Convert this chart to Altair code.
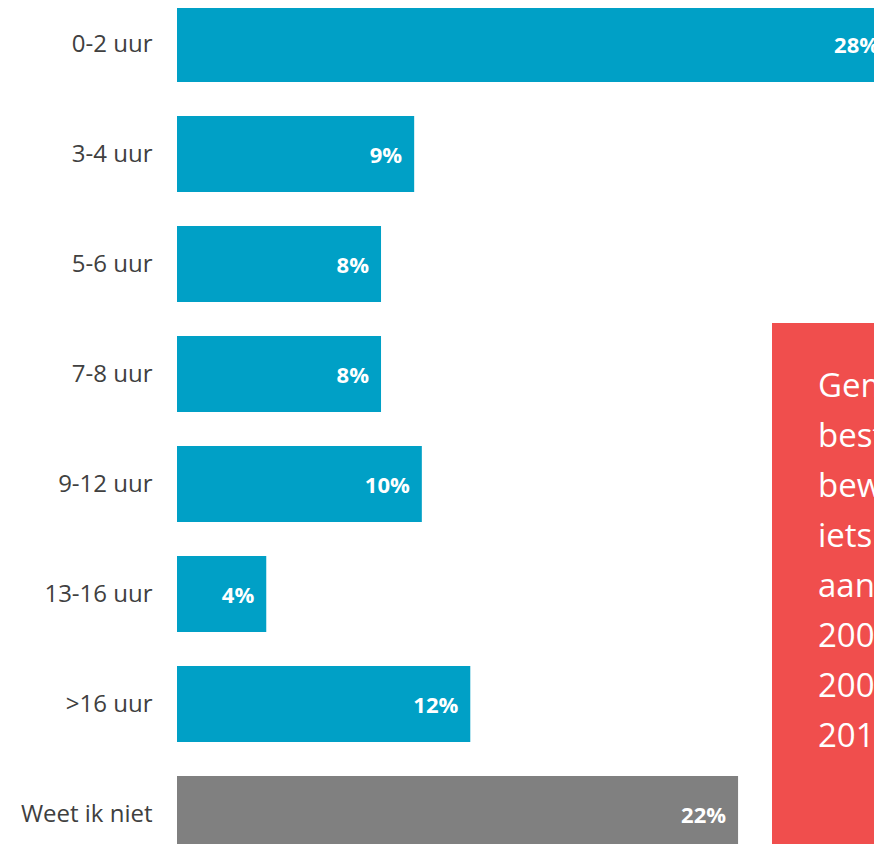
import altair as alt
import pandas as pd

categories = ["0-2 uur", "3-4 uur", "5-6 uur", "7-8 uur", "9-12 uur", "13-16 uur", ">16 uur", "Weet ik niet"]
values = [28.0, 9.3, 8.0, 8.0, 9.6, 3.5, 11.5, 22.0]
labels = ["28%", "9%", "8%", "8%", "10%", "4%", "12%", "22%"]
groups = ["uren", "uren", "uren", "uren", "uren", "uren", "uren", "onbekend"]
note_lines = ["Gemiddeld", "besteden", "bewoners", "iets meer", "aan", "2008", "2009", "2010"]

df = pd.DataFrame({"categorie": categories, "waarde": values, "label": labels, "groep": groups})

FONT = "Open Sans"

y_enc = alt.Y(
    "categorie:N",
    sort=categories,
    title=None,
    scale=alt.Scale(range=[-2, 844], paddingInner=0.309, paddingOuter=0),
    axis=alt.Axis(
        ticks=False, domain=False, grid=False, labelPadding=25, labelOffset=1,
        labelFont=FONT, labelFontSize=24, labelColor="#404040", labelLimit=300,
    ),
)
x_enc = alt.X(
    "waarde:Q",
    title=None,
    scale=alt.Scale(domain=[0, 27.33], nice=False, zero=True),
    axis=None,
)

base = alt.Chart(df)

bars = base.mark_bar(clip=True).encode(
    y=y_enc,
    x=x_enc,
    color=alt.Color(
        "groep:N",
        scale=alt.Scale(domain=["uren", "onbekend"], range=["#00A0C6", "#808080"]),
        legend=None,
    ),
)

texts = base.mark_text(
    clip=True, align="right", baseline="middle", dx=-12, dy=2,
    font=FONT, fontSize=22, fontWeight="bold", color="white",
).encode(y=y_enc, x=x_enc, text="label:N")

box = alt.Chart(pd.DataFrame({"a": [0]})).mark_rect(clip=True, color="#F04E4D").encode(
    x=alt.value(595), x2=alt.value(760), y=alt.value(315), y2=alt.value(900)
)

note = alt.Chart(pd.DataFrame({"a": [0]})).mark_text(
    clip=True, align="left", baseline="alphabetic", font=FONT, fontSize=33,
    lineHeight=50, color="white",
).encode(x=alt.value(641), y=alt.value(389), text=alt.value(note_lines))

chart = alt.layer(bars, texts, box, note).properties(
    width=697,
    height=836,
    autosize=alt.AutoSizeParams(type="none"),
    padding={"left": 169, "top": 0, "right": 0, "bottom": 0},
).configure_view(stroke=None)

chart.save("out.html", embed_options={"renderer": "svg", "actions": False})
